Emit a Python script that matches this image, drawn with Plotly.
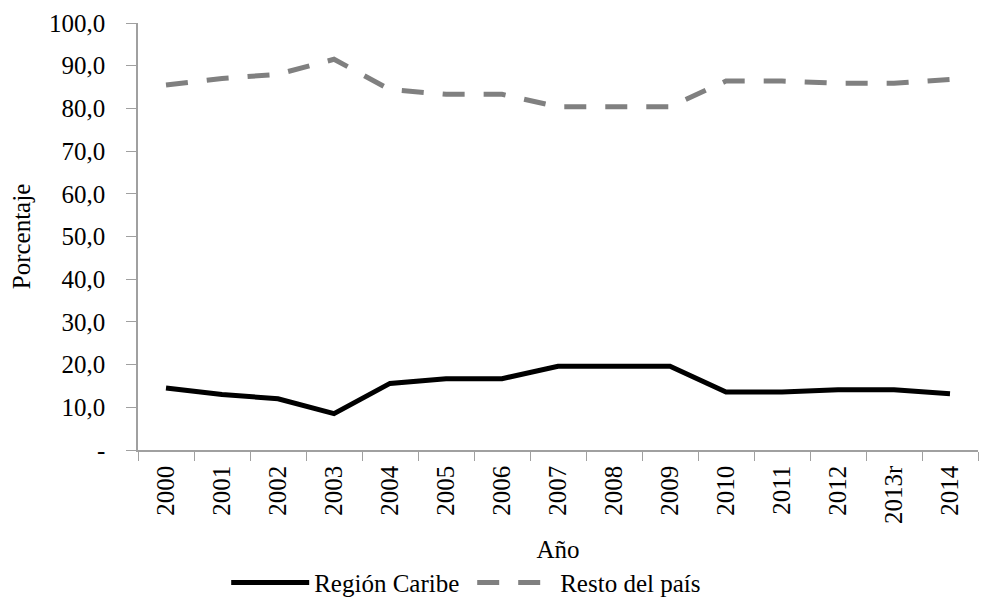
import plotly.graph_objects as go

years = ["2000", "2001", "2002", "2003", "2004", "2005", "2006", "2007",
         "2008", "2009", "2010", "2011", "2012", "2013r", "2014"]
caribe = [14.5, 13.0, 12.0, 8.5, 15.6, 16.7, 16.7, 19.6, 19.6, 19.6, 13.6, 13.6, 14.1, 14.1, 13.2]
resto = [85.5, 87.0, 88.0, 91.5, 84.4, 83.3, 83.3, 80.4, 80.4, 80.4, 86.4, 86.4, 85.9, 85.9, 86.8]
ytick_vals = [0, 10, 20, 30, 40, 50, 60, 70, 80, 90, 100]
ytick_text = ["-", "10,0", "20,0", "30,0", "40,0", "50,0", "60,0", "70,0", "80,0", "90,0", "100,0"]

fig = go.Figure()
fig.add_trace(go.Scatter(x=years, y=caribe, mode="lines", name="Región Caribe",
                         line=dict(color="black", width=5)))
fig.add_trace(go.Scatter(x=years, y=resto, mode="lines", name="Resto del país",
                         line=dict(color="#808080", width=5, dash="22px,19px")))

font = dict(family="Liberation Serif", size=25, color="black")
fig.update_layout(
    width=992, height=603,
    margin=dict(l=130, r=22, t=15, b=161, autoexpand=False),
    paper_bgcolor="white", plot_bgcolor="white",
    font=font,
    showlegend=True,
    legend=dict(orientation="h", x=0.105, xanchor="left", y=-0.311, yanchor="middle",
                font=font, itemwidth=78, entrywidth=153, entrywidthmode="pixels",
                tracegroupgap=0, borderwidth=0),
    xaxis=dict(type="category", range=[-0.5, 14.5], automargin=False,
               showgrid=False, showline=True, linecolor="#a0a0a0", linewidth=1.5,
               ticks="outside", tickson="boundaries", ticklen=9, tickcolor="#a0a0a0",
               tickangle=-90, tickfont=font, ticklabelstandoff=4,
               title=dict(text="Año", font=font, standoff=17)),
    yaxis=dict(range=[0, 100], automargin=False, showgrid=False, showline=True,
               linecolor="#a0a0a0", linewidth=1.5,
               ticks="outside", ticklen=10, tickcolor="#a0a0a0", ticklabelstandoff=16,
               tickvals=ytick_vals, ticktext=ytick_text, tickfont=font, zeroline=False,
               title=dict(text="Porcentaje", font=font, standoff=18)),
)
fig.write_html("out.html")
